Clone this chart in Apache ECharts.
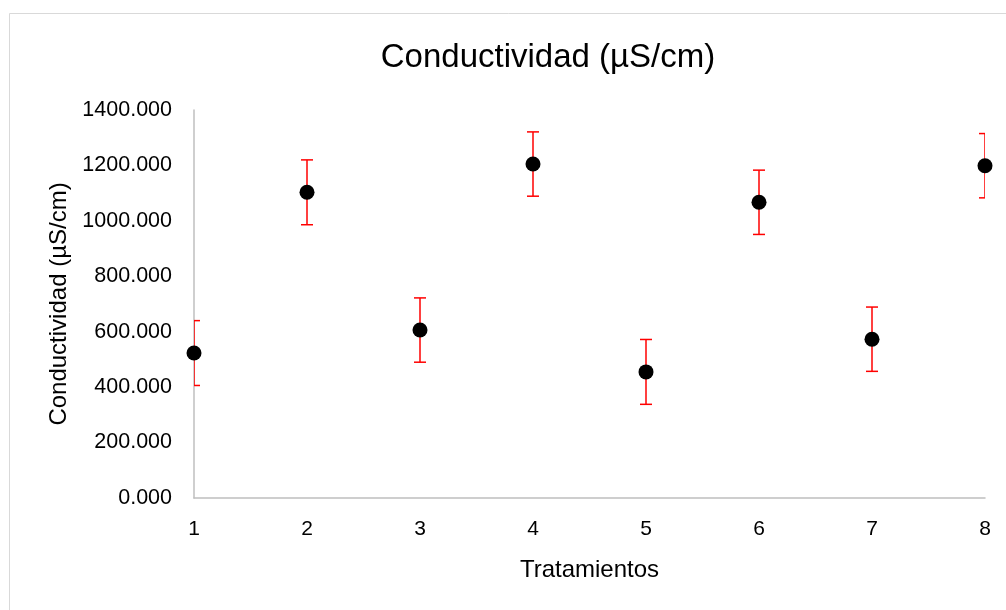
<!DOCTYPE html>
<html>
<head>
<meta charset="utf-8">
<script src="https://cdn.jsdelivr.net/npm/echarts@6/dist/echarts.min.js"></script>
<style>
html,body{margin:0;padding:0;background:#fff;}
#chart{width:1006px;height:610px;}
</style>
</head>
<body>
<div id="chart"></div>
<script>
const titleText = 'Conductividad (µS/cm)';
const xAxisName = 'Tratamientos';
const yAxisName = 'Conductividad (µS/cm)';
const treatments = [1, 2, 3, 4, 5, 6, 7, 8];
const conductivity = [523, 1103, 606, 1205, 455, 1067, 573, 1199];
const errors = [117, 117, 116, 116, 117, 116, 116, 116];
const yTicks = [0, 200, 400, 600, 800, 1000, 1200, 1400];

const FONT = 'Liberation Sans';
const scatterData = treatments.map((t, i) => [t, conductivity[i]]);
const errData = treatments.map((t, i) => [t, conductivity[i] - errors[i], conductivity[i] + errors[i]]);

const chart = echarts.init(document.getElementById('chart'), null, {renderer: 'canvas'});
chart.setOption({
  backgroundColor: '#ffffff',
  animation: false,
  graphic: [{
    type: 'rect',
    left: 7, top: 11,
    shape: {width: 1020, height: 620},
    style: {fill: 'none', stroke: '#d9d9d9', lineWidth: 1},
    silent: true
  }],
  title: {
    text: titleText,
    left: 548,
    top: 58,
    textAlign: 'center',
    textVerticalAlign: 'middle',
    padding: 0,
    textStyle: {fontFamily: FONT, fontSize: 33, fontWeight: 'normal', color: '#000'}
  },
  grid: {left: 194, right: 21, top: 110, bottom: 112, containLabel: false},
  xAxis: {
    type: 'value',
    min: 1, max: 8, interval: 1,
    name: xAxisName,
    nameLocation: 'middle',
    nameGap: 60,
    nameTextStyle: {fontFamily: FONT, fontSize: 24, color: '#000'},
    axisLine: {show: true, lineStyle: {color: '#bfbfbf', width: 1.5}},
    axisTick: {show: false},
    splitLine: {show: false},
    axisLabel: {fontFamily: FONT, fontSize: 21, color: '#000', margin: 21}
  },
  yAxis: {
    type: 'value',
    min: yTicks[0], max: yTicks[yTicks.length - 1], interval: yTicks[1] - yTicks[0],
    name: yAxisName,
    nameLocation: 'middle',
    nameGap: 117,
    nameRotate: 90,
    nameTextStyle: {fontFamily: FONT, fontSize: 24, color: '#000'},
    axisLine: {show: true, lineStyle: {color: '#bfbfbf', width: 1.5}},
    axisTick: {show: false},
    splitLine: {show: false},
    axisLabel: {fontFamily: FONT, fontSize: 21.5, color: '#000', margin: 22,
      formatter: v => v.toFixed(3)}
  },
  series: [{
    type: 'custom',
    clip: true,
    silent: true,
    data: errData,
    renderItem: function (params, api) {
      const x = api.value(0);
      const lo = api.coord([x, api.value(1)]);
      const hi = api.coord([x, api.value(2)]);
      const hw = 6;
      const style = {stroke: '#ff0000', lineWidth: 1.5, fill: 'none'};
      return {
        type: 'group',
        children: [
          {type: 'line', shape: {x1: lo[0], y1: lo[1], x2: hi[0], y2: hi[1]}, style},
          {type: 'line', shape: {x1: lo[0] - hw, y1: lo[1], x2: lo[0] + hw, y2: lo[1]}, style},
          {type: 'line', shape: {x1: hi[0] - hw, y1: hi[1], x2: hi[0] + hw, y2: hi[1]}, style}
        ]
      };
    },
    z: 2
  }, {
    type: 'scatter',
    clip: false,
    data: scatterData,
    symbol: 'circle',
    symbolSize: 15,
    itemStyle: {color: '#000000', opacity: 1},
    emphasis: {disabled: true},
    z: 3
  }]
});
</script>
</body>
</html>
